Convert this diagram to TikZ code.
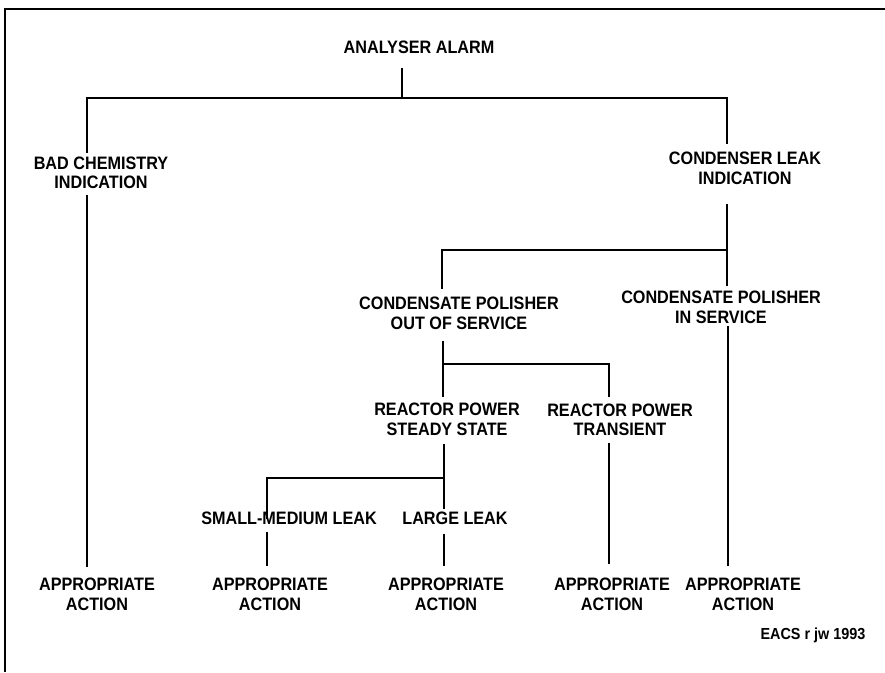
\documentclass[tikz,border=0pt]{standalone}
\usepackage{fontspec}
\setmainfont{Liberation Sans}[FakeStretch=0.9]
\usetikzlibrary{calc}
\begin{document}
\begin{tikzpicture}[x=1pt, y=-1pt,
  box/.style={inner sep=0pt, align=center, font=\bfseries\fontsize{18}{19.5}\selectfont},
  link/.style={line width=1.9pt}]
\useasboundingbox (0,0) rectangle (885,672);
\draw [line width=2pt] (5,672) |- (885,9);

\node [box] (alarm) at (419,47) {ANALYSER ALARM};
\node [box] (chem) at (101,173) {BAD CHEMISTRY\\INDICATION};
\node [box] (leak) at (745,168.5) {CONDENSER LEAK\\INDICATION};
\node [box] (cpout) at (459,313.5) {CONDENSATE POLISHER\\OUT OF SERVICE};
\node [box] (cpin) at (721,307.5) {CONDENSATE POLISHER\\IN SERVICE};
\node [box] (steady) at (447,419.5) {REACTOR POWER\\STEADY STATE};
\node [box] (trans) at (620,420) {REACTOR POWER\\TRANSIENT};
\node [box] (small) at (289,518) {SMALL-MEDIUM LEAK};
\node [box] (large) at (455,518) {LARGE LEAK};
\node [box] (act1) at (97,594.5) {APPROPRIATE\\ACTION};
\node [box] (act2) at (270,594.5) {APPROPRIATE\\ACTION};
\node [box] (act3) at (446,594.5) {APPROPRIATE\\ACTION};
\node [box] (act4) at (612,594.5) {APPROPRIATE\\ACTION};
\node [box] (act5) at (743,594.5) {APPROPRIATE\\ACTION};
\node [box, anchor=base, font=\bfseries\fontsize{16}{17}\selectfont] (sign) at (813,639) {EACS r jw 1993};

\draw [link] ($(alarm.south)+(-17,14)$) -- ++(0,30) coordinate (split1) -| ($(chem.north)+(-14,-4)$);
\draw [link] (split1) -| ($(leak.north)+(-18,-8)$);
\draw [link] ($(chem.south)+(-14,5.5)$) -- ($(act1.north)+(-10,-11)$);
\draw [link] ($(leak.south)+(-18,19)$) -- ($(cpin.north)+(6,-5)$);
\draw [link] ($(leak.south)+(-18,65)$) -| ($(cpout.north)+(-17,-8)$);
\draw [link] ($(cpin.south)+(7,2)$) -- ($(act5.north)+(-15,-12)$);
\draw [link] ($(cpout.south)+(-16,11)$) -- ($(steady.north)+(-4,-6)$);
\draw [link] ($(cpout.south)+(-16,34)$) -| ($(trans.north)+(-11,-6.5)$);
\draw [link] ($(trans.south)+(-11,6.5)$) -- ($(act4.north)+(-3,-14)$);
\draw [link] ($(steady.south)+(-3,8)$) -- ($(large.north)+(-11,-2)$);
\draw [link] ($(steady.south)+(-3,42)$) -| ($(small.north)+(-22,8)$);
\draw [link] ($(small.south)+(-22,7)$) -- ($(act2.north)+(-3,-12)$);
\draw [link] ($(large.south)+(-11,9)$) -- ($(act3.north)+(-2,-12)$);
\end{tikzpicture}
\end{document}
